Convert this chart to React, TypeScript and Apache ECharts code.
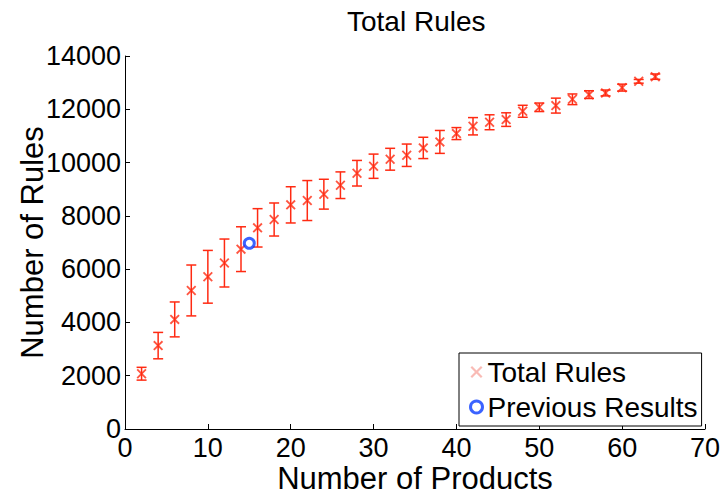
import React, { useEffect, useRef } from "react";
import * as echarts from "echarts";

const products = [2, 4, 6, 8, 10, 12, 14, 16, 18, 20, 22, 24, 26, 28, 30, 32, 34, 36, 38, 40, 42, 44, 46, 48, 50, 52, 54, 56, 58, 60, 62, 64];
const meanRules = [2075, 3130, 4113, 5200, 5713, 6230, 6750, 7550, 7863, 8413, 8575, 8813, 9150, 9600, 9863, 10125, 10275, 10550, 10775, 11088, 11363, 11513, 11613, 11925, 12075, 12138, 12375, 12550, 12613, 12813, 13050, 13225];
const errRules = [240, 495, 655, 955, 990, 900, 840, 720, 620, 680, 750, 560, 500, 480, 455, 410, 420, 400, 430, 225, 325, 280, 255, 225, 160, 280, 200, 145, 110, 130, 70, 100];
const previousResults = [[15, 6970]];

const FONT = "'Liberation Sans', Arial, Helvetica, sans-serif";
const RED = "#ff2a12";
const XPATH = "path://M0,1.3L1.3,0L5,3.7L8.7,0L10,1.3L6.3,5L10,8.7L8.7,10L5,6.3L1.3,10L0,8.7L3.7,5Z";

export default function App() {
  const ref = useRef<HTMLDivElement>(null);
  useEffect(() => {
    if (!ref.current) return;
    const chart = echarts.init(ref.current, undefined, { renderer: "svg" });
    const errData = products.map((x, i) => [x, meanRules[i] - errRules[i], meanRules[i] + errRules[i]]);
    const meanData = products.map((x, i) => [x, meanRules[i]]);
    chart.setOption({
      animation: false,
      backgroundColor: "#fff",
      textStyle: { fontFamily: FONT },
      title: {
        text: "Total Rules",
        left: 342,
        top: 2,
        textStyle: { fontFamily: FONT, fontSize: 28, fontWeight: "normal", color: "#000" },
      },
      grid: { left: 125, right: 15, top: 56, bottom: 66, outerBoundsMode: "none", containLabel: false },
      legend: {
        orient: "vertical",
        left: 459,
        top: 353,
        padding: [5, 4, 5, 10],
        itemGap: 7,
        itemWidth: 12,
        itemHeight: 12,
        borderColor: "#000",
        borderWidth: 1,
        backgroundColor: "#fff",
        textStyle: { fontFamily: FONT, fontSize: 28, color: "#000" },
        data: [
          { name: "Total Rules", icon: XPATH, itemStyle: { color: "#f7aaa2" } },
          { name: "Previous Results", icon: "circle", itemStyle: { color: "#fff", borderColor: "#0a3cff", borderWidth: 3 } },
        ],
      },
      xAxis: {
        type: "value",
        min: 0,
        max: 70,
        interval: 10,
        name: "Number of Products",
        nameLocation: "middle",
        nameGap: 34,
        nameMoveOverlap: false,
        nameTextStyle: { fontFamily: FONT, fontSize: 31, lineHeight: 31, color: "#000" },
        axisLine: { show: true, onZero: false, lineStyle: { color: "#000", width: 1 } },
        axisTick: { show: true, inside: true, length: 5, lineStyle: { color: "#000" } },
        axisLabel: { fontFamily: FONT, fontSize: 27, lineHeight: 27, color: "#000", margin: 5 },
        splitLine: { show: false },
      },
      yAxis: {
        type: "value",
        min: 0,
        max: 14000,
        interval: 2000,
        name: "Number of Rules",
        nameLocation: "middle",
        nameGap: 77,
        nameMoveOverlap: false,
        nameTextStyle: { fontFamily: FONT, fontSize: 31, lineHeight: 31, color: "#000" },
        axisLine: { show: true, onZero: false, lineStyle: { color: "#000", width: 1 } },
        axisTick: { show: true, inside: true, length: 5, lineStyle: { color: "#000" } },
        axisLabel: { fontFamily: FONT, fontSize: 27, lineHeight: 27, color: "#000", margin: 4, formatter: (v: number) => String(v) },
        splitLine: { show: false },
      },
      series: [
        {
          type: "custom",
          name: "errorbars",
          data: errData,
          encode: { x: 0, y: [1, 2] },
          renderItem: (params: any, api: any) => {
            const x = api.value(0);
            const lo = api.coord([x, api.value(1)]);
            const hi = api.coord([x, api.value(2)]);
            const hw = 5;
            const style = { stroke: RED, lineWidth: 1.5 };
            return {
              type: "group",
              children: [
                { type: "line", shape: { x1: lo[0], y1: lo[1], x2: hi[0], y2: hi[1] }, style },
                { type: "line", shape: { x1: lo[0] - hw, y1: lo[1], x2: lo[0] + hw, y2: lo[1] }, style },
                { type: "line", shape: { x1: hi[0] - hw, y1: hi[1], x2: hi[0] + hw, y2: hi[1] }, style },
              ],
            };
          },
          z: 2,
        },
        {
          type: "scatter",
          name: "Total Rules",
          data: meanData,
          symbol: XPATH,
          symbolSize: 10,
          itemStyle: { color: RED },
          z: 3,
        },
        {
          type: "scatter",
          name: "Previous Results",
          data: previousResults,
          symbol: "circle",
          symbolSize: 10,
          itemStyle: { color: "#fff", borderColor: "#0a3cff", borderWidth: 3 },
          z: 4,
        },
      ],
    });
    return () => chart.dispose();
  }, []);
  return <div ref={ref} style={{ position: "fixed", left: 0, top: 0, width: 720, height: 495 }} />;
}
